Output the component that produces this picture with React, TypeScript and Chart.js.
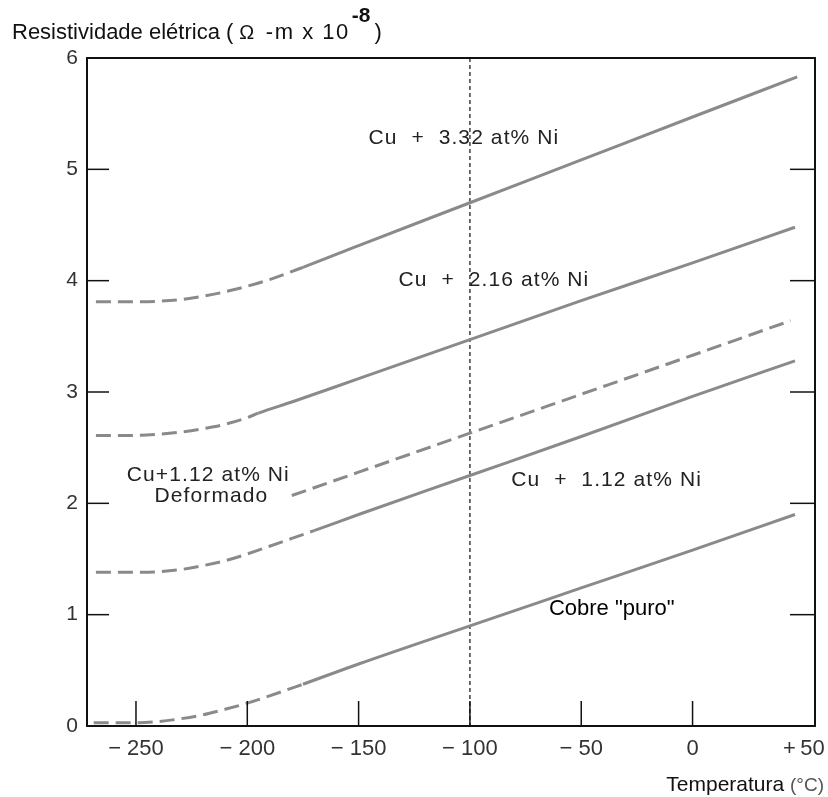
import React, { useEffect, useRef } from 'react';
import { Chart, registerables } from 'chart.js';

Chart.register(...registerables);

// ---- data (temperature °C / resistivity Ω·m ×10^-8) ----
const xTickValues = [-250, -200, -150, -100, -50, 0, 50];
const yTickValues = [0, 1, 2, 3, 4, 5, 6];

const tempCu332 = [-268, -250, -240, -230, -220, -210, -200, -190, -175, -150, -100, -50, 0, 47];
const rhoCu332 = [3.81, 3.81, 3.815, 3.83, 3.86, 3.9, 3.95, 4.01, 4.12, 4.315, 4.7, 5.085, 5.47, 5.83];
const dashEndCu332 = -175;

const tempCu216 = [-268, -250, -240, -230, -220, -210, -200, -195, -180, -150, -100, -50, 0, 46];
const rhoCu216 = [2.61, 2.61, 2.62, 2.64, 2.67, 2.71, 2.77, 2.81, 2.91, 3.12, 3.47, 3.82, 4.16, 4.48];
const dashEndCu216 = -195;

const tempCu112Def = [-180, -150, -100, -50, 0, 44];
const rhoCu112Def = [2.07, 2.28, 2.63, 2.98, 3.33, 3.64];
const dashEndCu112Def = 100;

const tempCu112 = [-268, -250, -240, -230, -220, -210, -200, -185, -170, -150, -100, -50, 0, 46];
const rhoCu112 = [1.38, 1.38, 1.385, 1.405, 1.44, 1.485, 1.545, 1.65, 1.755, 1.9, 2.25, 2.6, 2.96, 3.28];
const dashEndCu112 = -170;

const tempCuPure = [-269, -250, -240, -230, -220, -210, -200, -190, -180, -175, -150, -100, -50, 0, 46];
const rhoCuPure = [0.03, 0.03, 0.04, 0.065, 0.1, 0.15, 0.205, 0.27, 0.34, 0.375, 0.557, 0.9, 1.24, 1.58, 1.9];
const dashEndCuPure = -175;

const referenceTemp = -100;

const curveLabels = [
  { text: 'Cu  +  3.32 at% Ni', x: -102.7, y: 5.28 },
  { text: 'Cu  +  2.16 at% Ni', x: -89.2, y: 4.0 },
  { text: 'Cu+1.12 at% Ni', x: -217.5, y: 2.25 },
  { text: 'Deformado', x: -216.1, y: 2.06 },
  { text: 'Cu  +  1.12 at% Ni', x: -38.6, y: 2.21 },
];
const pureLabel = { text: 'Cobre "puro"', x: -36.3, y: 1.05 };

// ---- styling ----
const LINE = '#8a8a8a';
const FONT = '"Liberation Sans", Arial, sans-serif';

function curve(temps: number[], rhos: number[], dashEnd: number) {
  return {
    data: temps.map((t, i) => ({ x: t, y: rhos[i] })),
    borderColor: LINE,
    borderWidth: 3,
    pointRadius: 0,
    fill: false,
    cubicInterpolationMode: 'monotone' as const,
    segment: {
      borderDash: (ctx: any) => (ctx.p1.parsed.x <= dashEnd + 0.01 ? [15, 7] : []),
    },
  };
}

const decorPlugin = {
  id: 'decor',
  beforeDatasetsDraw(chart: any) {
    const { ctx, chartArea: a, scales } = chart;
    const px = scales.x.getPixelForValue(referenceTemp);
    ctx.save();
    ctx.strokeStyle = '#222';
    ctx.lineWidth = 1.3;
    ctx.setLineDash([4, 3]);
    ctx.beginPath();
    ctx.moveTo(px, a.top);
    ctx.lineTo(px, a.bottom);
    ctx.stroke();
    ctx.restore();
  },
  afterDraw(chart: any) {
    const { ctx, chartArea: a, scales } = chart;
    const x = scales.x;
    const y = scales.y;
    ctx.save();
    // frame
    ctx.strokeStyle = '#111';
    ctx.lineWidth = 2;
    ctx.strokeRect(a.left, a.top, a.right - a.left, a.bottom - a.top);
    // inward ticks
    ctx.lineWidth = 1.5;
    const seg = (x1: number, y1: number, x2: number, y2: number) => {
      ctx.beginPath();
      ctx.moveTo(x1, y1);
      ctx.lineTo(x2, y2);
      ctx.stroke();
    };
    x.ticks.forEach((t: any) => {
      const p = x.getPixelForValue(t.value);
      if (p > a.left + 3 && p < a.right - 14) seg(p, a.bottom, p, a.bottom - 25);
    });
    y.ticks.forEach((t: any) => {
      if (t.value <= y.min || t.value >= y.max) return;
      const p = y.getPixelForValue(t.value);
      seg(a.left, p, a.left + 22, p);
      seg(a.right, p, a.right - 25, p);
    });

    // curve labels
    ctx.fillStyle = '#222';
    ctx.textAlign = 'center';
    ctx.textBaseline = 'middle';
    ctx.font = `21px ${FONT}`;
    (ctx as any).letterSpacing = '1.1px';
    curveLabels.forEach((l) => {
      ctx.fillText(l.text, x.getPixelForValue(l.x), y.getPixelForValue(l.y));
    });
    (ctx as any).letterSpacing = '0px';
    ctx.fillStyle = '#000';
    ctx.font = `22px ${FONT}`;
    ctx.fillText(pureLabel.text, x.getPixelForValue(pureLabel.x), y.getPixelForValue(pureLabel.y));

    // y axis title
    ctx.textAlign = 'left';
    ctx.textBaseline = 'alphabetic';
    ctx.fillStyle = '#111';
    let cx = 12;
    const base = 39;
    const put = (s: string, font: string, dy = 0, gap = 0, spacing = 0) => {
      ctx.font = font;
      (ctx as any).letterSpacing = `${spacing}px`;
      ctx.fillText(s, cx, base + dy);
      cx += ctx.measureText(s).width + gap;
      (ctx as any).letterSpacing = '0px';
    };
    put('Resistividade elétrica (', `22px ${FONT}`, 0, 6);
    put('Ω', `20px ${FONT}`, 0, 4);
    put(' -m x 10', `22px ${FONT}`, 0, 2, 1.5);
    put('-8', `bold 21px ${FONT}`, -17, 4);
    put(')', `22px ${FONT}`);

    // x axis title
    ctx.fillStyle = '#111';
    ctx.font = `21px ${FONT}`;
    const t1 = 'Temperatura ';
    const w1 = ctx.measureText(t1).width;
    ctx.font = `19px ${FONT}`;
    const t2 = '(°C)';
    const w2 = ctx.measureText(t2).width;
    const startX = 824 - w1 - w2;
    ctx.font = `21px ${FONT}`;
    ctx.fillText(t1, startX, 791);
    ctx.fillStyle = '#555';
    ctx.font = `19px ${FONT}`;
    ctx.fillText(t2, startX + w1, 791);
    ctx.restore();
  },
};

export default function App() {
  const ref = useRef<HTMLCanvasElement | null>(null);
  useEffect(() => {
    if (!ref.current) return;
    const chart = new Chart(ref.current, {
      type: 'line',
      data: {
        datasets: [
          curve(tempCu332, rhoCu332, dashEndCu332),
          curve(tempCu216, rhoCu216, dashEndCu216),
          curve(tempCu112Def, rhoCu112Def, dashEndCu112Def),
          curve(tempCu112, rhoCu112, dashEndCu112),
          curve(tempCuPure, rhoCuPure, dashEndCuPure),
        ] as any,
      },
      options: {
        responsive: false,
        animation: false,
        layout: { padding: { left: 27, right: 13, top: 58, bottom: 21 } },
        plugins: { legend: { display: false }, tooltip: { enabled: false }, title: { display: false } },
        scales: {
          x: {
            type: 'linear',
            min: -272,
            max: 55,
            grid: { display: false, drawTicks: false },
            border: { display: false },
            afterBuildTicks: (s: any) => {
              s.ticks = xTickValues.map((v) => ({ value: v }));
            },
            afterFit: (s: any) => {
              s.height = 50;
              s.paddingLeft = 0;
              s.paddingRight = 0;
            },
            ticks: {
              autoSkip: false,
              maxRotation: 0,
              padding: 10,
              color: '#333',
              font: { size: 22, family: FONT },
              callback: (v: any) => (v === 0 ? '0' : v > 0 ? '+\u2009' + v : '\u2212 ' + Math.abs(v)),
            },
          },
          y: {
            type: 'linear',
            min: 0,
            max: 6,
            grid: { display: false, drawTicks: false },
            border: { display: false },
            afterBuildTicks: (s: any) => {
              s.ticks = yTickValues.map((v) => ({ value: v }));
            },
            afterFit: (s: any) => {
              s.width = 60;
              s.paddingTop = 0;
              s.paddingBottom = 0;
            },
            ticks: {
              padding: 9,
              color: '#333',
              font: { size: 21, family: FONT },
            },
          },
        },
      },
      plugins: [decorPlugin],
    });
    return () => chart.destroy();
  }, []);
  return (
    <div style={{ position: 'fixed', left: 0, top: 0, width: 828, height: 797, background: '#fff' }}>
      <canvas ref={ref} width={828} height={797} />
    </div>
  );
}
